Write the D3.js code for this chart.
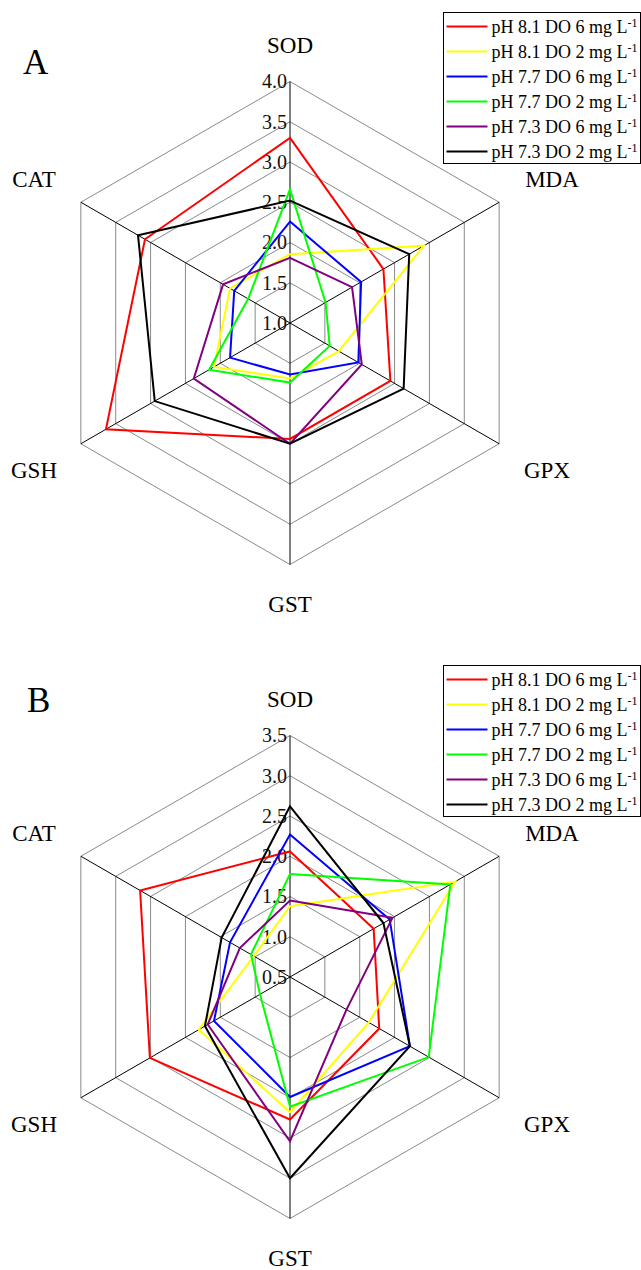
<!DOCTYPE html>
<html>
<head>
<meta charset="utf-8">
<script src="https://cdn.jsdelivr.net/npm/d3@7"></script>
<style>
  body { margin: 0; background: #fff; }
  svg { display: block; }
  text { font-family: "Liberation Serif", "Times New Roman", serif; }
</style>
</head>
<body>
<div id="chart"></div>
<script>
// axes, clockwise from the top
const axes = ["SOD", "MDA", "GPX", "GST", "GSH", "CAT"];

const seriesNames = [
  "pH 8.1 DO 6 mg L",
  "pH 8.1 DO 2 mg L",
  "pH 7.7 DO 6 mg L",
  "pH 7.7 DO 2 mg L",
  "pH 7.3 DO 6 mg L",
  "pH 7.3 DO 2 mg L",
];
const colors = ["#ff0000", "#ffff00", "#0000ff", "#00ff00", "#800080", "#000000"];

// panel A values (SOD, MDA, GPX, GST, GSH, CAT)
const valuesA = [
  [3.30, 2.34, 2.44, 2.44, 3.64, 3.08],
  [1.855, 2.92, 1.70, 1.69, 2.09, 1.86],
  [2.26, 2.02, 1.98, 1.64, 1.86, 1.80],
  [2.66, 1.51, 1.57, 1.74, 2.16, 1.60],
  [1.81, 1.89, 2.03, 2.50, 2.38, 1.96],
  [2.52, 2.71, 2.63, 2.50, 2.94, 3.18],
];
const ticksA = [1.0, 1.5, 2.0, 2.5, 3.0, 3.5, 4.0];

// panel B values
const valuesB = [
  [2.06, 1.70, 1.78, 2.27, 2.51, 2.65],
  [1.38, 2.87, 1.63, 2.18, 1.81, 1.02],
  [2.27, 1.93, 2.22, 1.99, 1.59, 1.36],
  [1.78, 2.80, 2.49, 2.11, 0.93, 1.06],
  [1.45, 1.97, 1.31, 2.54, 1.68, 1.22],
  [2.62, 1.84, 2.22, 3.00, 1.72, 1.48],
];
const ticksB = [0.5, 1.0, 1.5, 2.0, 2.5, 3.0, 3.5];

const width = 641, height = 1270;
const R = 241.5;
const serif = '"Liberation Serif", "Times New Roman", serif';

const svg = d3.select("#chart").append("svg")
  .attr("width", width)
  .attr("height", height);

// label offsets relative to the centre
const labelPos = [
  { dx: 0, dy: -270 },
  { dx: 262, dy: -136 },
  { dx: 257, dy: 155 },
  { dx: 0, dy: 289 },
  { dx: -256, dy: 155 },
  { dx: -256, dy: -136 },
];

function drawRadar(opts) {
  const g = svg.append("g")
    .attr("transform", `translate(${opts.cx},${opts.cy})`);

  const rScale = d3.scaleLinear()
    .domain(d3.extent(opts.ticks))
    .range([0, R]);

  const angle = (i) => (i * Math.PI * 2) / axes.length;

  const ring = d3.lineRadial()
    .angle((d, i) => angle(i))
    .radius((d) => rScale(d))
    .curve(d3.curveLinearClosed);

  // rings
  g.selectAll(".ring")
    .data(opts.ticks.slice(1))
    .join("path")
    .attr("class", "ring")
    .attr("d", (t) => ring(axes.map(() => t)))
    .attr("fill", "none")
    .attr("stroke", "#8a8a8a")
    .attr("stroke-width", 1);

  // spokes
  g.selectAll(".spoke")
    .data(axes)
    .join("line")
    .attr("class", "spoke")
    .attr("x1", 0)
    .attr("y1", 0)
    .attr("x2", (d, i) => R * Math.sin(angle(i)))
    .attr("y2", (d, i) => -R * Math.cos(angle(i)))
    .attr("stroke", "#000")
    .attr("stroke-width", 1);

  // tick labels on the top axis
  g.selectAll(".tick")
    .data(opts.ticks)
    .join("text")
    .attr("class", "tick")
    .attr("x", -3)
    .attr("y", (t) => -rScale(t))
    .attr("dy", "0.34em")
    .attr("text-anchor", "end")
    .attr("font-family", serif)
    .attr("font-size", 20)
    .attr("fill", "#111")
    .text((t) => d3.format(".1f")(t));

  // axis names
  g.selectAll(".axis-label")
    .data(axes)
    .join("text")
    .attr("class", "axis-label")
    .attr("x", (d, i) => labelPos[i].dx)
    .attr("y", (d, i) => labelPos[i].dy)
    .attr("text-anchor", "middle")
    .attr("font-family", serif)
    .attr("font-size", 23)
    .attr("fill", "#000")
    .text((d) => d);

  // series
  g.selectAll(".series")
    .data(opts.values)
    .join("path")
    .attr("class", "series")
    .attr("d", (vals) => ring(vals))
    .attr("fill", "none")
    .attr("stroke", (d, i) => colors[i])
    .attr("stroke-width", 2);

  // panel letter
  svg.append("text")
    .attr("x", opts.letterX)
    .attr("y", opts.letterY)
    .attr("font-family", serif)
    .attr("font-size", 35)
    .text(opts.letter);

  // legend
  const lg = svg.append("g")
    .attr("transform", `translate(443.5,${opts.legendTop})`);
  lg.append("rect")
    .attr("width", 197)
    .attr("height", 151)
    .attr("fill", "#fff")
    .attr("stroke", "#000")
    .attr("stroke-width", 1);
  const rows = lg.selectAll(".row")
    .data(seriesNames)
    .join("g")
    .attr("class", "row")
    .attr("transform", (d, i) => `translate(0,${14 + i * 25})`);
  rows.append("line")
    .attr("x1", 3)
    .attr("x2", 44)
    .attr("stroke", (d, i) => colors[i])
    .attr("stroke-width", 2);
  const txt = rows.append("text")
    .attr("x", 48)
    .attr("dy", "0.35em")
    .attr("font-family", serif)
    .attr("font-size", 18)
    .attr("fill", "#000");
  txt.append("tspan").text((d) => d);
  txt.append("tspan")
    .attr("dy", "-0.45em")
    .attr("font-size", 12)
    .text("-1");
}

drawRadar({
  cx: 290, cy: 323, values: valuesA, ticks: ticksA,
  letter: "A", letterX: 23, letterY: 74, legendTop: 12.5,
});
drawRadar({
  cx: 290, cy: 977, values: valuesB, ticks: ticksB,
  letter: "B", letterX: 27, letterY: 712, legendTop: 665.5,
});
</script>
</body>
</html>
